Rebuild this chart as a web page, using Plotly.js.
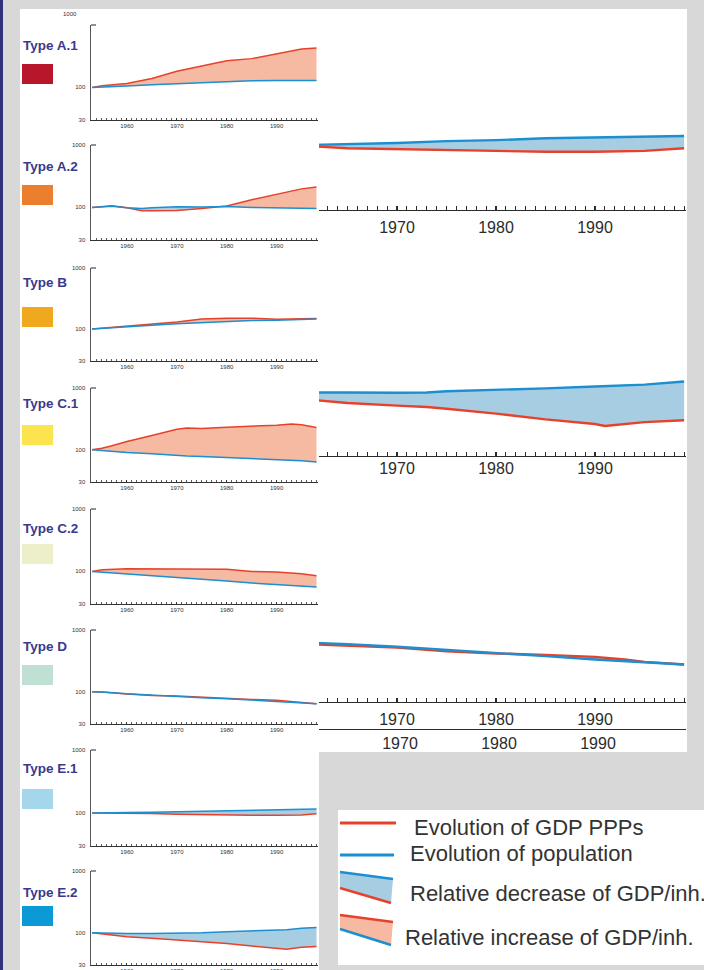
<!DOCTYPE html>
<html><head><meta charset="utf-8">
<script src="https://cdn.plot.ly/plotly-3.0.1.min.js"></script>
<style>
html,body{margin:0;padding:0;background:#d8d8d8;overflow:hidden;}
#back,#front{position:absolute;left:0;top:0;width:704px;height:970px;}
</style>
</head><body>
<div id="back"></div><div id="front"></div>
<script>
// ---------------- DATA (index, base 100) ----------------
const typeNames = ['Type A.1','Type A.2','Type B','Type C.1','Type C.2','Type D','Type E.1','Type E.2'];
const typeColors = ['#b8172b','#ec7f2e','#f0a91f','#fbe44d','#ecefc9','#c0e0d4','#a4d6ec','#0b9ad6'];
const yearTicks = [1960,1970,1980,1990];
const yTickVals = [30,100,1000];

const yearsA1 = [1953,1955,1960,1965,1970,1975,1980,1985,1990,1995,1998];
const gdpA1   = [100,106,115,139,181,223,268,289,346,411,426];
const popA1   = [100,101,105,110,114,120,124,128,129,129,129];

const yearsA2 = [1953,1955,1957,1960,1963,1965,1970,1975,1980,1985,1990,1995,1998];
const gdpA2   = [100,102,106,99,88,88,89,96,105,133,160,198,212];
const popA2   = [100,101,104,99,96,99,102,101,103,100,99,99,96];

const yearsB  = [1953,1955,1960,1965,1970,1975,1980,1985,1990,1995,1998];
const gdpB    = [100,103,111,119,131,146,151,151,145,148,149];
const popB    = [100,102,109,115,122,128,134,138,140,143,146];

const yearsC1 = [1953,1955,1957,1960,1965,1970,1972,1975,1980,1985,1990,1993,1995,1998];
const gdpC1   = [100,106,116,136,170,215,224,221,232,238,250,260,253,229];
const popC1   = [100,97,94,90,86,80,79,78,75,72,69,67,66,63];

const yearsC2 = [1953,1955,1960,1965,1970,1975,1980,1985,1990,1995,1998];
const gdpC2   = [100,106,110,110,110,110,108,100,97.5,92,85];
const popC2   = [100,97.5,92,86,81,75,70,65,61,58,56];

const yearsD  = [1953,1955,1960,1965,1970,1975,1980,1985,1990,1995,1998];
const gdpD    = [100,99,92,87,85,81,77,75,73,66.5,64];
const popD    = [100,99,93,88,85,80,77,73,71,66.5,64];

const yearsE1 = [1953,1955,1960,1965,1970,1975,1980,1985,1990,1995,1998];
const gdpE1   = [100,100,100,98,96,94,94,92,92,93,97];
const popE1   = [100,100,101.6,103,105,106,109,111,112,116,116];

const yearsE2 = [1953,1955,1960,1965,1970,1975,1980,1985,1990,1992,1995,1998];
const gdpE2   = [100,95,86,81,76,72,67,61,55,54,58,60];
const popE2   = [100,99,97.5,97.5,97.5,100,104,107,110,112,118,121];

// large charts (partly hidden behind the small panels)
const yearsBig1 = [1956,1962,1965,1970,1975,1980,1985,1990,1995,1999];
const gdpBig1   = [100,99,96,94.5,93,91.5,90,90,91.5,96];
const popBig1   = [100,102,103,106,110,112,116,118,119,121];

const yearsBig2 = [1958,1962,1965,1970,1973,1975,1980,1985,1990,1991,1995,1999];
const gdpBig2   = [92,86,82,78,76,73.5,67,60,55,53,57,59];
const popBig2   = [100,100.6,100,99.4,100,102.5,105,108,112,113,116,123];

const yearsBig3 = [1958,1962,1965,1970,1975,1980,1985,1990,1993,1995,1999];
const gdpBig3   = [91,88.8,87.6,83.9,78.2,74.9,73,70.3,66.9,63.9,60.9];
const popBig3   = [94,91.5,89.3,84.9,79.7,74.9,71.2,66.9,64.8,63.2,60.9];

const legendLabels = ['Evolution of GDP PPPs','Evolution of population','Relative decrease of GDP/inh.','Relative increase of GDP/inh.'];

// ---------------- STYLE ----------------
const W=704, H=970;
const X=p=>p/W, Y=p=>1-p/H;
const RED='#e8412b', BLUE='#1b8fcf', FILL_UP='#f6b9a1', FILL_DOWN='#a7cde3';
const FONT='Liberation Sans, Arial, Helvetica, sans-serif';

function addPair(traces, xa, ya, years, gdp, pop, lw){
  const top = gdp.map((v,i)=>Math.max(v,pop[i]));
  const base = {x:years, xaxis:xa, yaxis:ya, mode:'lines', hoverinfo:'skip', showlegend:false};
  traces.push(Object.assign({}, base, {y:pop, line:{width:0}}));
  traces.push(Object.assign({}, base, {y:top, line:{width:0}, fill:'tonexty', fillcolor:FILL_UP}));
  traces.push(Object.assign({}, base, {y:gdp, line:{width:0}}));
  traces.push(Object.assign({}, base, {y:top, line:{width:0}, fill:'tonexty', fillcolor:FILL_DOWN}));
  traces.push(Object.assign({}, base, {y:gdp, line:{color:RED, width:lw}}));
  traces.push(Object.assign({}, base, {y:pop, line:{color:BLUE, width:lw}}));
}

// ---------------- BACK: large charts + legend ----------------
const backTraces = [];
addPair(backTraces,'x','y',yearsBig1,gdpBig1,popBig1,2.4);
addPair(backTraces,'x2','y2',yearsBig2,gdpBig2,popBig2,2.4);
addPair(backTraces,'x3','y3',yearsBig3,gdpBig3,popBig3,2.4);
backTraces.push({x:[1960],y:[0.5],xaxis:'x4',yaxis:'y4',mode:'markers',marker:{size:1,opacity:0},hoverinfo:'skip',showlegend:false});

function bigX(anchor, standoff, ticks){
  const a = {domain:[X(250),X(686)], range:[1955.15,1999.19], anchor:anchor,
    showline:true, linecolor:'#2b2b2b', linewidth:1.4, showgrid:false, zeroline:false,
    tickmode:'linear', tick0:1960, dtick:10,
    tickfont:{family:FONT, size:16, color:'#2b2b2b'}, ticklabelstandoff:standoff};
  if(ticks){
    a.ticks='inside'; a.ticklen=4; a.tickwidth=1.1; a.tickcolor='#2b2b2b';
    a.minor={dtick:1, tick0:1960, ticks:'inside', ticklen:4, tickwidth:1.1, tickcolor:'#2b2b2b'};
  } else { a.ticks=''; }
  return a;
}
function bigY(anchor, y30, y1000){
  return {domain:[Y(y30),Y(y1000)], type:'log', range:[Math.log10(30),3], anchor:anchor, visible:false};
}

const legendShapes = [
  {type:'line', xref:'paper', yref:'paper', x0:X(340), x1:X(396), y0:Y(823), y1:Y(823), line:{color:RED,width:3}},
  {type:'line', xref:'paper', yref:'paper', x0:X(340), x1:X(394), y0:Y(855), y1:Y(855), line:{color:BLUE,width:3}},
  {type:'path', xref:'paper', yref:'paper', path:`M${X(340)},${Y(872)} L${X(393)},${Y(879)} L${X(391)},${Y(903)} L${X(340)},${Y(888)} Z`, fillcolor:FILL_DOWN, line:{width:0}},
  {type:'line', xref:'paper', yref:'paper', x0:X(340), x1:X(393), y0:Y(872), y1:Y(879), line:{color:BLUE,width:2.5}},
  {type:'line', xref:'paper', yref:'paper', x0:X(340), x1:X(391), y0:Y(888), y1:Y(903), line:{color:RED,width:2.5}},
  {type:'path', xref:'paper', yref:'paper', path:`M${X(340)},${Y(915)} L${X(393)},${Y(922)} L${X(391)},${Y(945)} L${X(340)},${Y(929)} Z`, fillcolor:FILL_UP, line:{width:0}},
  {type:'line', xref:'paper', yref:'paper', x0:X(340), x1:X(393), y0:Y(915), y1:Y(922), line:{color:RED,width:2.5}},
  {type:'line', xref:'paper', yref:'paper', x0:X(340), x1:X(391), y0:Y(929), y1:Y(945), line:{color:BLUE,width:2.5}}
];
const legendPos = [[412,827],[408,853],[408,893],[403,937]];

const backLayout = {
  width:W, height:H, margin:{l:0,r:0,t:0,b:0}, showlegend:false,
  paper_bgcolor:'#d8d8d8', plot_bgcolor:'rgba(0,0,0,0)',
  xaxis:bigX('y',2,true), yaxis:bigY('x',210,24),
  xaxis2:bigX('y2',-3,true), yaxis2:bigY('x2',456,271),
  xaxis3:bigX('y3',2,true), yaxis3:bigY('x3',702,516),
  xaxis4:Object.assign(bigX('y4',-1,false),{range:[1954.85,1998.89]}),
  yaxis4:{domain:[Y(729),Y(726)], range:[0,1], anchor:'x4', visible:false},
  shapes:[
    {type:'rect', layer:'below', xref:'paper', yref:'paper', x0:0, x1:X(3), y0:0, y1:1, fillcolor:'#2f2f7c', line:{width:0}},
    {type:'rect', layer:'below', xref:'paper', yref:'paper', x0:X(20), x1:X(687), y0:Y(752), y1:Y(9), fillcolor:'#ffffff', line:{width:0}},
    {type:'rect', layer:'below', xref:'paper', yref:'paper', x0:X(338), x1:1, y0:Y(965), y1:Y(810), fillcolor:'#ffffff', line:{width:0}}
  ].concat(legendShapes),
  annotations: legendLabels.map((t,i)=>({text:t, xref:'paper', yref:'paper', x:X(legendPos[i][0]), y:Y(legendPos[i][1]),
    xanchor:'left', yanchor:'middle', showarrow:false, font:{family:FONT, size:22, color:'#333333'}}))
};

// ---------------- FRONT: small panels ----------------
const panelYears = [yearsA1,yearsA2,yearsB,yearsC1,yearsC2,yearsD,yearsE1,yearsE2];
const panelGdp   = [gdpA1,gdpA2,gdpB,gdpC1,gdpC2,gdpD,gdpE1,gdpE2];
const panelPop   = [popA1,popA2,popB,popC1,popC2,popD,popE1,popE2];
const panelTop   = [25,145,268,388,509,630,750,871];
const panelBot   = [120,240,361,482,604,724,846,965];
const labelY     = [45,166,282,403,528,646,768,892];
const swatchTop  = [64,185,307,425,544,665,789,906];

const frontTraces = [];
const frontLayout = {
  width:W, height:H, margin:{l:0,r:0,t:0,b:0}, showlegend:false,
  paper_bgcolor:'rgba(0,0,0,0)', plot_bgcolor:'rgba(0,0,0,0)',
  shapes:[{type:'rect', layer:'below', xref:'paper', yref:'paper', x0:X(20), x1:X(319), y0:0, y1:Y(9), fillcolor:'#ffffff', line:{width:0}}],
  annotations:[]
};
for(let i=0;i<8;i++){
  const s = i===0 ? '' : String(i+1);
  addPair(frontTraces,'x'+s,'y'+s,panelYears[i],panelGdp[i],panelPop[i],1.5);
  frontLayout['xaxis'+s] = {domain:[X(91),X(318)], range:[1952.8,1998.3], anchor:'y'+s,
    showline:true, linecolor:'#333', linewidth:1.2, showgrid:false, zeroline:false,
    tickmode:'array', tickvals:yearTicks, ticktext:yearTicks.map(String),
    ticks:'inside', ticklen:2, tickwidth:1, tickcolor:'#333',
    minor:{dtick:1, tick0:1950, ticks:'inside', ticklen:2, tickwidth:0.8, tickcolor:'#333'},
    tickfont:{family:FONT, size:6, color:'#333'}, ticklabelstandoff:0};
  const tv = i===0 ? yTickVals.slice(0,2) : yTickVals;
  frontLayout['yaxis'+s] = {domain:[Y(panelBot[i]),Y(panelTop[i])], type:'log', range:[Math.log10(30),3], anchor:'x'+s,
    showline:true, linecolor:'#555', linewidth:1.5, showgrid:false, zeroline:false,
    tickmode:'array', tickvals:tv, ticktext:tv.map(String), ticks:'',
    tickfont:{family:FONT, size:6, color:'#333'}, ticklabelstandoff:3};
  frontLayout.shapes.push({type:'line', xref:'paper', yref:'paper', x0:X(91), x1:X(96), y0:Y(panelTop[i]), y1:Y(panelTop[i]), line:{color:'#555',width:1.3}});
  frontLayout.shapes.push({type:'rect', xref:'paper', yref:'paper', x0:X(22), x1:X(53), y0:Y(swatchTop[i]+20), y1:Y(swatchTop[i]), fillcolor:typeColors[i], line:{width:0}});
  frontLayout.annotations.push({text:'<b>'+typeNames[i]+'</b>', xref:'paper', yref:'paper', x:X(21), y:Y(labelY[i]),
    xanchor:'left', yanchor:'middle', showarrow:false, font:{family:FONT, size:13.5, color:'#3a3a8c'}});
}
frontLayout.annotations.push({text:'1000', xref:'paper', yref:'paper', x:X(70), y:Y(14), xanchor:'center', yanchor:'middle',
  showarrow:false, font:{family:FONT, size:6, color:'#333'}});

Plotly.newPlot('back', backTraces, backLayout, {staticPlot:true, displayModeBar:false});
Plotly.newPlot('front', frontTraces, frontLayout, {staticPlot:true, displayModeBar:false});
</script>
</body></html>
